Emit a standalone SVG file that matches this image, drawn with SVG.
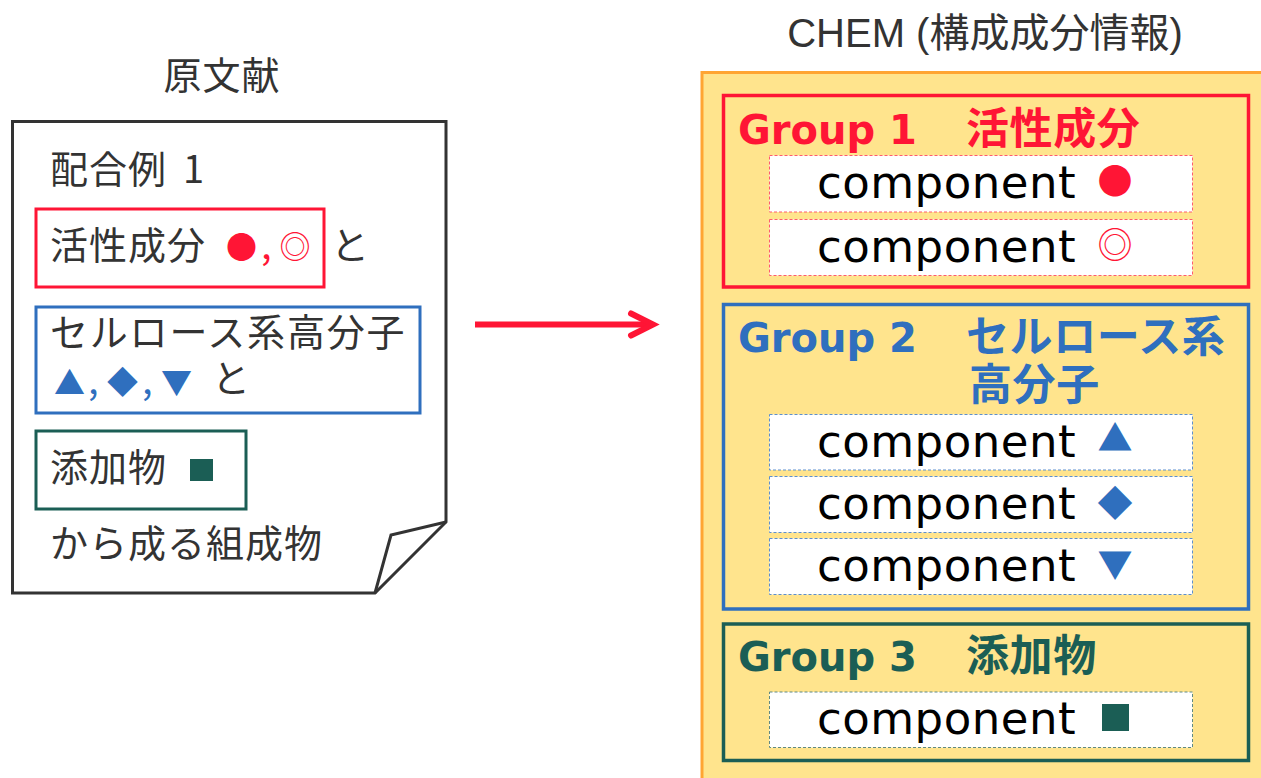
<svg xmlns="http://www.w3.org/2000/svg" width="1261" height="778" viewBox="0 0 1261 778">
<style>
.doc{font-family:"Noto Sans CJK JP","Noto Sans",sans-serif;font-size:38px;fill:#333333;letter-spacing:1px;}
.dsym{font-family:"Noto Sans CJK JP",sans-serif;font-size:31px;text-anchor:middle;}
.ttl{font-family:"Liberation Sans","Noto Sans CJK JP",sans-serif;font-size:40px;fill:#333333;}
.gt{font-family:"DejaVu Sans",sans-serif;font-weight:bold;font-size:40px;}
.gj{font-family:"Noto Sans CJK JP",sans-serif;font-weight:bold;font-size:43px;letter-spacing:0.6px;}
.comp{font-family:"DejaVu Sans",sans-serif;font-size:45px;letter-spacing:0.5px;fill:#000000;}
.sym{font-family:"Noto Sans CJK JP",sans-serif;font-size:35px;text-anchor:middle;}
.cbox{fill:#ffffff;stroke-width:1;stroke-dasharray:3 2;}
.red{fill:#ff1535;}
.blue{fill:#2f6fbe;}
.green{fill:#1b5e55;}
</style>

<text class="ttl" x="985" y="47" text-anchor="middle">CHEM (構成成分情報)</text>
<text class="doc" x="222" y="89" text-anchor="middle">原文献</text>

<g id="document">
  <path d="M12.5,121.5 H446 V522 L375,593 H12.5 Z" fill="#ffffff" stroke="#333333" stroke-width="3" stroke-linejoin="miter"/>
  <path d="M446,522 L391,535 L375,593" fill="none" stroke="#333333" stroke-width="3"/>
  <text class="doc" x="50" y="183">配合例<tspan x="183">1</tspan></text>
  <text class="doc" x="50" y="557">から成る組成物</text>
</g>

<g id="doc-active">
  <rect x="36" y="209" width="288" height="78" fill="none" stroke="#ff1535" stroke-width="3"/>
  <text class="doc" x="50" y="259">活性成分</text>
  <text class="dsym red" x="241.5" y="258">●</text>
  <text class="doc red" x="261" y="259" style="letter-spacing:0">,</text>
  <text class="dsym red" x="295" y="258">◎</text>
  <text class="doc" x="331" y="259">と</text>
</g>

<g id="doc-cellulose">
  <rect x="36" y="307" width="384" height="106" fill="none" stroke="#2f6fbe" stroke-width="3"/>
  <text class="doc" x="50" y="346" style="letter-spacing:1.8px">セルロース系高分子</text>
  <text class="dsym blue" x="69.5" y="394">▲</text>
  <text class="doc blue" x="88" y="394" style="letter-spacing:0">,</text>
  <text class="dsym blue" x="122.5" y="393">◆</text>
  <text class="doc blue" x="142" y="394" style="letter-spacing:0">,</text>
  <text class="dsym blue" x="176.5" y="394">▼</text>
  <text class="doc" x="212" y="392">と</text>
</g>

<g id="doc-additive">
  <rect x="36" y="431" width="210" height="78" fill="none" stroke="#1b5e55" stroke-width="3"/>
  <text class="doc" x="50" y="481">添加物</text>
  <rect x="190" y="459" width="23" height="22" fill="#1b5e55"/>
</g>

<g id="connectors">
  <path d="M475,324.5 H652" fill="none" stroke="#ff1535" stroke-width="6" stroke-linecap="butt"/>
  <path d="M631,313.5 L653,324.5 L631,335.5" fill="none" stroke="#ff1535" stroke-width="6" stroke-linecap="round" stroke-linejoin="miter"/>
</g>

<g id="chem">
  <rect x="702" y="72.5" width="600" height="800" fill="#ffe48d" stroke="#ffa533" stroke-width="3"/>
</g>

<g id="group1">
  <rect x="723.5" y="95.5" width="525" height="191.5" fill="none" stroke="#ff1535" stroke-width="3.5"/>
  <text class="gt red" x="738" y="144">Group 1</text>
  <text class="gj red" x="966" y="144">活性成分</text>
  <rect class="cbox" x="769.5" y="155.5" width="423" height="56.5" stroke="#ff5a6e"/>
  <text class="comp" x="817" y="197.5">component</text>
  <text class="sym red" x="1115" y="194">●</text>
  <rect class="cbox" x="769.5" y="219.5" width="423" height="56" stroke="#ff5a6e"/>
  <text class="comp" x="817" y="261.5">component</text>
  <text class="sym red" x="1115" y="258">◎</text>
</g>

<g id="group2">
  <rect x="723.5" y="304.5" width="525" height="304.5" fill="none" stroke="#2f6fbe" stroke-width="3.5"/>
  <text class="gt blue" x="738" y="352">Group 2</text>
  <text class="gj blue" x="966" y="352">セルロース系</text>
  <text class="gj blue" x="969" y="400">高分子</text>
  <rect class="cbox" x="769.5" y="414.5" width="423" height="55.5" stroke="#5b8fd0"/>
  <text class="comp" x="817" y="456.5">component</text>
  <text class="sym blue" x="1115" y="451">▲</text>
  <rect class="cbox" x="769.5" y="476.5" width="423" height="56" stroke="#5b8fd0"/>
  <text class="comp" x="817" y="518.5">component</text>
  <text class="sym blue" x="1115" y="515.5">◆</text>
  <rect class="cbox" x="769.5" y="538.5" width="423" height="56" stroke="#5b8fd0"/>
  <text class="comp" x="817" y="580.5">component</text>
  <text class="sym blue" x="1115" y="577.5">▼</text>
</g>

<g id="group3">
  <rect x="723.5" y="624" width="525" height="136.5" fill="none" stroke="#1b5e55" stroke-width="3.5"/>
  <text class="gt green" x="738" y="671">Group 3</text>
  <text class="gj green" x="966" y="671">添加物</text>
  <rect class="cbox" x="769.5" y="692" width="423" height="55.5" stroke="#5f8a84"/>
  <text class="comp" x="817" y="734">component</text>
  <rect x="1102" y="704" width="27" height="27" fill="#1b5e55"/>
</g>
</svg>
